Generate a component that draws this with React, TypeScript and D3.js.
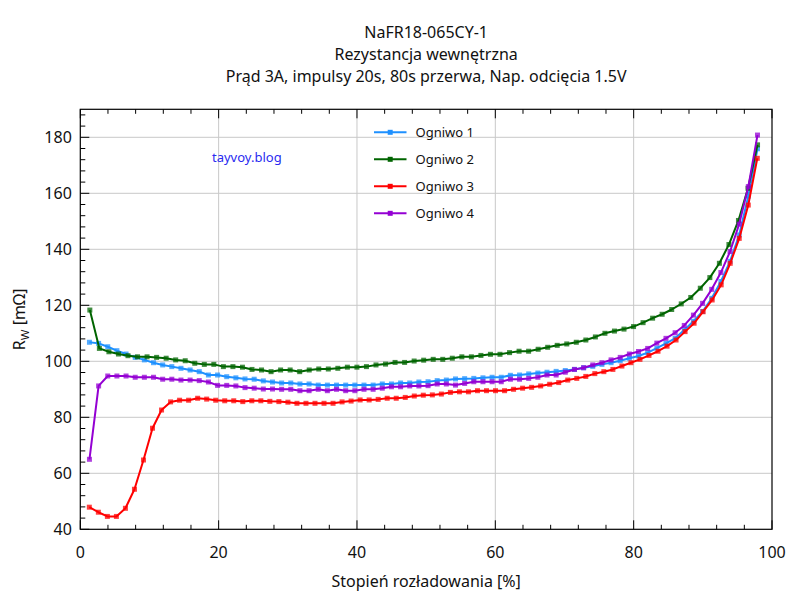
import React, { useEffect, useRef } from "react";
import * as d3 from "d3";

const cellNames = ["Ogniwo 1", "Ogniwo 2", "Ogniwo 3", "Ogniwo 4"];
const cellColors = ["#1e90ff", "#006400", "#ff0000", "#9400d3"];
// discharge step per pulse [%] for each cell
const cellSteps = [1.323, 1.379, 1.305, 1.323];

const ogniwo1 = [
    106.8, 106.4, 105.2, 103.8, 102.6, 101.4, 100.5, 99.5, 98.7, 98.1,
    97.5, 96.9, 96.3, 95.1, 95.1, 94.5, 94.1, 93.7, 93.6, 93.0,
    92.6, 92.25, 92.25, 91.9, 91.9, 91.5, 91.5, 91.5, 91.5, 91.5,
    91.5, 91.5, 91.9, 91.9, 92.25, 92.25, 92.6, 92.7, 93.1, 93.3,
    93.7, 93.8, 93.9, 94.1, 94.3, 94.3, 95.0, 95.1, 95.5, 95.8,
    96.1, 96.4, 96.7, 97.1, 97.7, 98.2, 98.9, 99.5, 100.2, 101.1,
    101.9, 103.1, 104.7, 106.4, 108.2, 111.2, 114.3, 117.8, 122.5, 128.5,
    135.7, 145.1, 159.0, 175.9,
];
const ogniwo2 = [
    118.3, 104.6, 103.4, 102.6, 102.0, 101.6, 101.6, 101.4, 101.1, 100.5,
    100.2, 99.3, 98.9, 98.9, 98.1, 98.1, 97.9, 97.1, 96.9, 96.3,
    96.9, 96.9, 96.3, 96.9, 97.25, 97.25, 97.5, 97.9, 97.9, 98.1,
    98.7, 99.0, 99.6, 99.6, 100.1, 100.4, 100.7, 100.7, 101.1, 101.6,
    101.6, 102.1, 102.5, 102.5, 103.1, 103.6, 103.6, 104.3, 105.0, 105.7,
    106.2, 106.8, 107.6, 108.7, 110.0, 110.8, 111.5, 112.4, 113.8, 115.4,
    116.8, 118.5, 120.5, 122.8, 126.1, 129.9, 135.0, 141.7, 150.3, 161.8,
    177.3,
];
const ogniwo3 = [
    47.9, 46.1, 44.6, 44.6, 47.5, 54.3, 64.75, 76.1, 82.6, 85.5,
    86.1, 86.1, 86.8, 86.5, 86.1, 85.9, 85.9, 85.6, 85.9, 85.9,
    85.7, 85.6, 85.4, 85.0, 85.0, 85.0, 85.0, 85.0, 85.5, 85.8,
    86.2, 86.2, 86.4, 86.8, 86.8, 87.1, 87.6, 87.9, 88.0, 88.3,
    88.9, 89.1, 89.1, 89.5, 89.5, 89.5, 89.5, 90.0, 90.4, 90.7,
    91.2, 91.8, 92.4, 93.3, 93.9, 94.6, 95.6, 96.3, 97.1, 98.3,
    99.5, 100.7, 102.1, 103.6, 105.4, 107.6, 110.6, 113.6, 117.7, 121.9,
    127.3, 135.0, 143.9, 155.8, 172.5,
];
const ogniwo4 = [
    65.0, 91.2, 94.75, 94.75, 94.75, 94.3, 94.3, 94.3, 93.6, 93.6,
    93.3, 93.3, 93.1, 92.6, 91.4, 91.4, 91.2, 90.6, 90.4, 90.1,
    90.1, 90.0, 90.0, 89.5, 89.5, 90.0, 89.5, 90.0, 89.5, 89.5,
    90.0, 90.0, 90.4, 90.9, 90.9, 91.2, 91.2, 91.3, 91.9, 91.9,
    91.5, 92.1, 92.7, 92.7, 92.7, 92.7, 93.6, 93.6, 93.9, 94.3,
    95.1, 95.1, 96.1, 97.1, 97.7, 98.7, 99.5, 100.5, 101.4, 102.6,
    103.5, 104.6, 106.5, 108.2, 110.2, 112.8, 116.5, 120.7, 125.7, 131.7,
    139.2, 149.0, 162.4, 180.8,
];
const cellValues = [ogniwo1, ogniwo2, ogniwo3, ogniwo4];

const xTicks = [0, 20, 40, 60, 80, 100];
const yTicks = [40, 60, 80, 100, 120, 140, 160, 180];
const titleLines = [
    "NaFR18-065CY-1",
    "Rezystancja wewnętrzna",
    "Prąd 3A, impulsy 20s, 80s przerwa, Nap. odcięcia 1.5V",
];

const FONT = "'Noto Sans', 'Open Sans', sans-serif";

const App = () => {
    const svgRef = useRef(null);

    useEffect(() => {
        const svg = d3.select(svgRef.current);
        svg.selectAll("*").remove();

        const margin = { top: 109.3, right: 28, bottom: 70.7, left: 80.3 };
        const width = 800 - margin.left - margin.right;
        const height = 600 - margin.top - margin.bottom;

        const x = d3.scaleLinear().domain([0, 100]).range([0, width]);
        const y = d3.scaleLinear().domain([40, 190]).range([height, 0]);

        svg.append("rect").attr("width", 800).attr("height", 600).attr("fill", "#fff");

        // title
        svg.append("g")
            .selectAll("text")
            .data(titleLines)
            .enter()
            .append("text")
            .attr("x", margin.left + width / 2)
            .attr("y", (d, i) => 37.5 + i * 22.3)
            .attr("text-anchor", "middle")
            .attr("font-family", FONT)
            .attr("font-size", 16)
            .attr("fill", "#111")
            .text((d) => d);

        const g = svg
            .append("g")
            .attr("transform", `translate(${margin.left},${margin.top})`);

        // grid
        g.append("g")
            .selectAll("line")
            .data(xTicks.filter((t) => t > 0 && t < 100))
            .enter()
            .append("line")
            .attr("x1", (d) => x(d))
            .attr("x2", (d) => x(d))
            .attr("y1", 0)
            .attr("y2", height)
            .attr("stroke", "#c8c8c8")
            .attr("stroke-width", 1);
        g.append("g")
            .selectAll("line")
            .data(yTicks.filter((t) => t > 40))
            .enter()
            .append("line")
            .attr("x1", 0)
            .attr("x2", width)
            .attr("y1", (d) => y(d))
            .attr("y2", (d) => y(d))
            .attr("stroke", "#c8c8c8")
            .attr("stroke-width", 1);

        // ticks (inward): bottom, top, left
        const xMinor = d3.range(0, 101, 4);
        const yMinor = d3.range(40, 191, 4);
        const tickG = g.append("g").attr("stroke", "#000").attr("stroke-width", 1);
        xMinor.forEach((t) => {
            const len = t % 20 === 0 ? 9 : 4.5;
            tickG.append("line").attr("x1", x(t)).attr("x2", x(t)).attr("y1", height).attr("y2", height - len);
            tickG.append("line").attr("x1", x(t)).attr("x2", x(t)).attr("y1", 0).attr("y2", len);
        });
        yMinor.forEach((t) => {
            const len = (t - 40) % 20 === 0 ? 9 : 5;
            tickG.append("line").attr("x1", 0).attr("x2", len).attr("y1", y(t)).attr("y2", y(t));
        });

        // tick labels
        g.append("g")
            .selectAll("text")
            .data(xTicks)
            .enter()
            .append("text")
            .attr("x", (d) => x(d))
            .attr("y", height + 29)
            .attr("text-anchor", "middle")
            .attr("font-family", FONT)
            .attr("font-size", 16)
            .attr("fill", "#111")
            .text((d) => d);
        g.append("g")
            .selectAll("text")
            .data(yTicks)
            .enter()
            .append("text")
            .attr("x", -8.5)
            .attr("y", (d) => y(d))
            .attr("dy", "0.36em")
            .attr("text-anchor", "end")
            .attr("font-family", FONT)
            .attr("font-size", 16)
            .attr("fill", "#111")
            .text((d) => d);

        // series
        const line = d3
            .line<number[]>()
            .x((d) => x(d[0]))
            .y((d) => y(d[1]));

        cellValues.forEach((vals, k) => {
            const pts = vals.map((v, i) => [(i + 1) * cellSteps[k], v]);
            g.append("path")
                .datum(pts)
                .attr("fill", "none")
                .attr("stroke", cellColors[k])
                .attr("stroke-width", 2)
                .attr("stroke-linejoin", "round")
                .attr("d", line as any);
            g.append("g")
                .selectAll("rect")
                .data(pts)
                .enter()
                .append("rect")
                .attr("x", (d) => x(d[0]) - 2.5)
                .attr("y", (d) => y(d[1]) - 2.5)
                .attr("width", 5)
                .attr("height", 5)
                .attr("fill", cellColors[k])
                .attr("fill-opacity", 0.75);
        });

        // frame
        g.append("rect")
            .attr("width", width)
            .attr("height", height)
            .attr("fill", "none")
            .attr("stroke", "#000")
            .attr("stroke-width", 1.2);

        // legend
        const lg = svg.append("g").attr("transform", "translate(374,132.3)");
        cellNames.forEach((name, k) => {
            const row = lg.append("g").attr("transform", `translate(0,${k * 27})`);
            row.append("line")
                .attr("x1", 0)
                .attr("x2", 32.5)
                .attr("stroke", cellColors[k])
                .attr("stroke-width", 2);
            row.append("rect")
                .attr("x", 13.7)
                .attr("y", -2.5)
                .attr("width", 5)
                .attr("height", 5)
                .attr("fill", cellColors[k]);
            row.append("text")
                .attr("x", 41.5)
                .attr("dy", "0.36em")
                .attr("font-family", FONT)
                .attr("font-size", 13)
                .attr("fill", "#111")
                .text(name);
        });

        // watermark
        svg.append("text")
            .attr("x", 212)
            .attr("y", 162)
            .attr("font-family", FONT)
            .attr("font-size", 13)
            .attr("fill", "#2a2af0")
            .text("tayvoy.blog");

        // axis labels
        svg.append("text")
            .attr("x", margin.left + width / 2)
            .attr("y", 587)
            .attr("text-anchor", "middle")
            .attr("font-family", FONT)
            .attr("font-size", 16)
            .attr("fill", "#111")
            .text("Stopień rozładowania [%]");

        const yl = svg
            .append("text")
            .attr("transform", `translate(25,${margin.top + height / 2}) rotate(-90)`)
            .attr("text-anchor", "middle")
            .attr("font-family", FONT)
            .attr("font-size", 16)
            .attr("fill", "#111");
        yl.append("tspan").text("R");
        yl.append("tspan").attr("font-size", 11.5).attr("dy", 4).text("W");
        yl.append("tspan").attr("dy", -4).text(" [mΩ]");
    }, []);

    return (
        <svg
            ref={svgRef}
            width={800}
            height={600}
            style={{ position: "absolute", left: 0, top: 0 }}
        ></svg>
    );
};

export default App;
